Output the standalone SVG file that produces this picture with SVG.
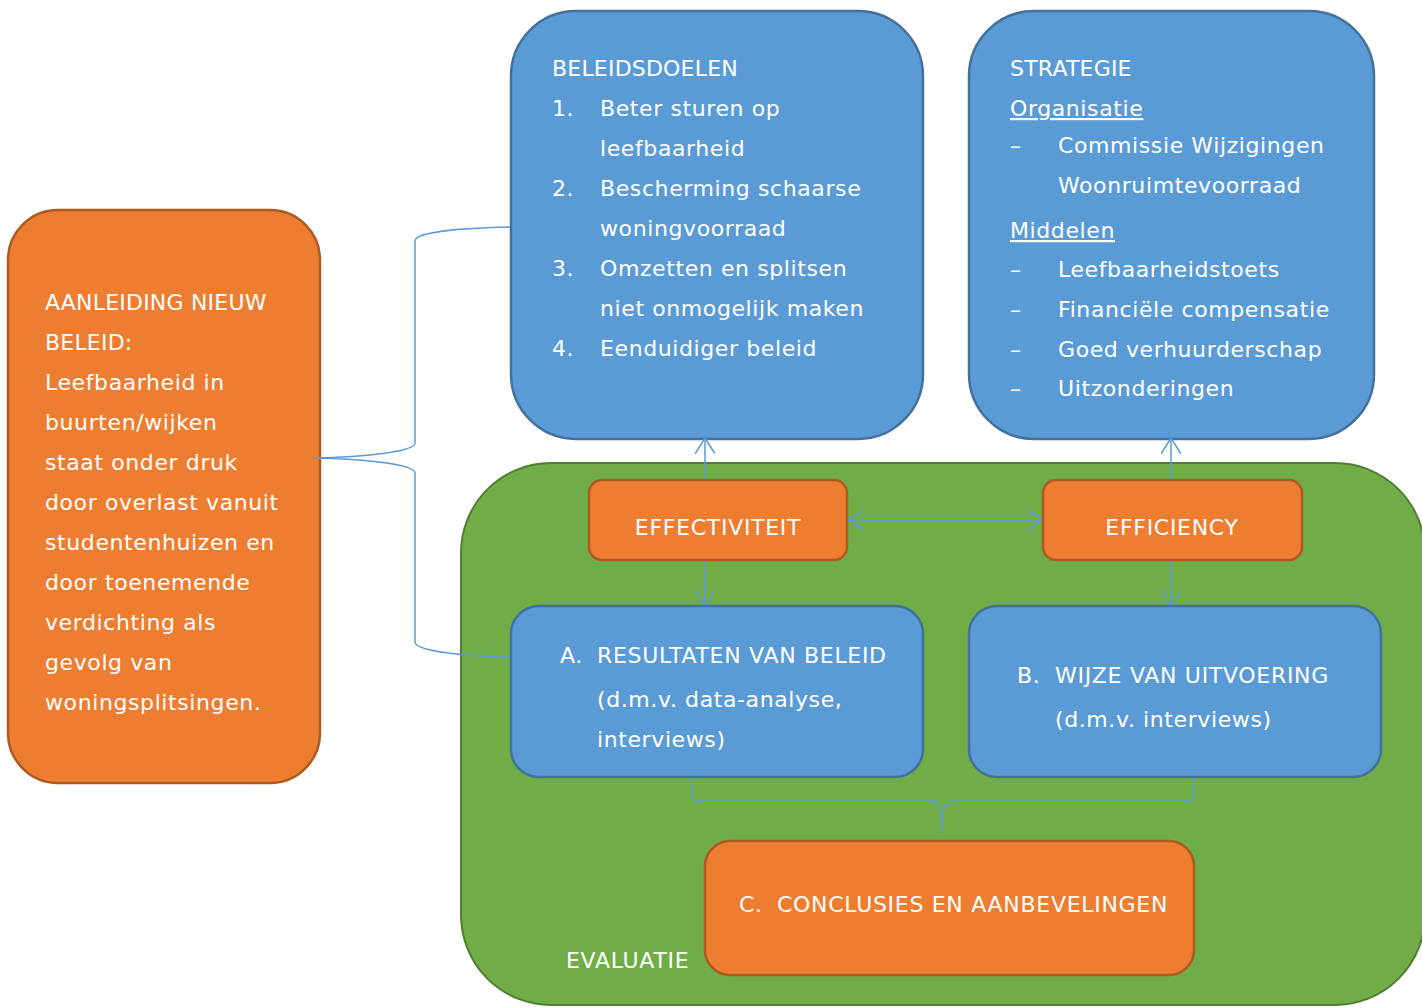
<svg xmlns="http://www.w3.org/2000/svg" width="1422" height="1008" viewBox="0 0 1422 1008">
<style>
.blue{fill:#5B9BD5;stroke:#41719C;stroke-width:2.5}
.orange{fill:#ED7D31;stroke:#AE5A21;stroke-width:2.5}
.green{fill:#70AD47;stroke:#507E32;stroke-width:2}
text{font-family:"DejaVu Sans","Verdana",sans-serif;font-size:22px;fill:#FFFFFF;letter-spacing:0.6px}
.caps{letter-spacing:0.2px}
.caps2{letter-spacing:0.7px}
.mid{text-anchor:middle}
.u{text-decoration:underline}
.conn{fill:none;stroke:#5B9BD5;stroke-width:1.5}
</style>
<defs>
<marker id="arr" viewBox="0 0 16 20" refX="16" refY="10" markerWidth="16" markerHeight="20" markerUnits="userSpaceOnUse" orient="auto-start-reverse">
<path d="M0,0 L16,10 L0,20" fill="none" stroke="#5B9BD5" stroke-width="1.5"/>
</marker>
</defs>
<rect width="1422" height="1008" fill="#FFFFFF"/>

<g id="beleidsdoelen">
<rect class="blue" x="511" y="11" width="412" height="428" rx="65" ry="65"/>
<text class="caps" x="552" y="76">BELEIDSDOELEN</text>
<text x="552" y="116">1.</text><text x="600" y="116">Beter sturen op</text>
<text x="600" y="156">leefbaarheid</text>
<text x="552" y="196">2.</text><text x="600" y="196">Bescherming schaarse</text>
<text x="600" y="236">woningvoorraad</text>
<text x="552" y="276">3.</text><text x="600" y="276">Omzetten en splitsen</text>
<text x="600" y="316">niet onmogelijk maken</text>
<text x="552" y="356">4.</text><text x="600" y="356">Eenduidiger beleid</text>
</g>

<g id="strategie">
<rect class="blue" x="969" y="11" width="405" height="428" rx="65" ry="65"/>
<text class="caps" x="1010" y="76">STRATEGIE</text>
<text class="u" x="1010" y="116">Organisatie</text>
<text x="1010" y="153">–</text><text x="1058" y="153">Commissie Wijzigingen</text>
<text x="1058" y="193">Woonruimtevoorraad</text>
<text class="u" x="1010" y="238">Middelen</text>
<text x="1010" y="277">–</text><text x="1058" y="277">Leefbaarheidstoets</text>
<text x="1010" y="317">–</text><text x="1058" y="317">Financiële compensatie</text>
<text x="1010" y="357">–</text><text x="1058" y="357">Goed verhuurderschap</text>
<text x="1010" y="396">–</text><text x="1058" y="396">Uitzonderingen</text>
</g>

<g id="aanleiding">
<rect class="orange" x="8" y="210" width="312" height="573" rx="50" ry="50"/>
<text class="caps" x="45" y="310">AANLEIDING NIEUW</text>
<text class="caps" x="45" y="350">BELEID:</text>
<text x="45" y="390">Leefbaarheid in</text>
<text x="45" y="430">buurten/wijken</text>
<text x="45" y="470">staat onder druk</text>
<text x="45" y="510">door overlast vanuit</text>
<text x="45" y="550">studentenhuizen en</text>
<text x="45" y="590">door toenemende</text>
<text x="45" y="630">verdichting als</text>
<text x="45" y="670">gevolg van</text>
<text x="45" y="710">woningsplitsingen.</text>
</g>

<g id="evaluatie">
<path class="green" d="M551,463 L1335,463 A90,90 0 0 1 1425,553 L1425,915 A90,90 0 0 1 1335,1005 L551,1005 A90,90 0 0 1 461,915 L461,553 A90,90 0 0 1 551,463 Z"/>
<text class="caps2" x="566" y="968">EVALUATIE</text>
</g>

<g id="connectors">
<path class="conn" d="M510,227 C462,228 415,232 415,241 L415,443 C415,452 362,457 314,458 C362,459 415,464 415,473 L415,642 C415,651 462,656 510,657"/>
<path class="conn" d="M692,777 L692,795 Q692,801 698,801 L934,801 Q942,801 942,833 Q942,801 950,801 L1188,801 Q1194,801 1194,795 L1194,777"/>
<line class="conn" x1="705" y1="438" x2="705" y2="606" marker-start="url(#arr)" marker-end="url(#arr)"/>
<line class="conn" x1="1171" y1="438" x2="1171" y2="606" marker-start="url(#arr)" marker-end="url(#arr)"/>
<line class="conn" x1="848" y1="520" x2="1043" y2="520" marker-start="url(#arr)" marker-end="url(#arr)"/>
</g>

<g id="effectiviteit">
<rect class="orange" x="589" y="480" width="258" height="80" rx="13" ry="13"/>
<text class="caps2 mid" x="718" y="535">EFFECTIVITEIT</text>
</g>

<g id="efficiency">
<rect class="orange" x="1043" y="480" width="259" height="80" rx="13" ry="13"/>
<text class="caps2 mid" x="1172" y="535">EFFICIENCY</text>
</g>

<g id="resultaten">
<rect class="blue" x="511" y="606" width="412" height="171" rx="28" ry="28"/>
<text class="caps2" x="560" y="663">A.</text><text class="caps2" x="597" y="663">RESULTATEN VAN BELEID</text>
<text x="597" y="707">(d.m.v. data-analyse,</text>
<text x="597" y="747">interviews)</text>
</g>

<g id="uitvoering">
<rect class="blue" x="969" y="606" width="412" height="171" rx="28" ry="28"/>
<text class="caps2" x="1017" y="683">B.</text><text class="caps2" x="1055" y="683">WIJZE VAN UITVOERING</text>
<text x="1055" y="727">(d.m.v. interviews)</text>
</g>

<g id="conclusies">
<rect class="orange" x="705" y="841" width="489" height="134" rx="25" ry="25"/>
<text class="caps2" x="739" y="912">C.</text><text class="caps2" x="777" y="912">CONCLUSIES EN AANBEVELINGEN</text>
</g>
</svg>
